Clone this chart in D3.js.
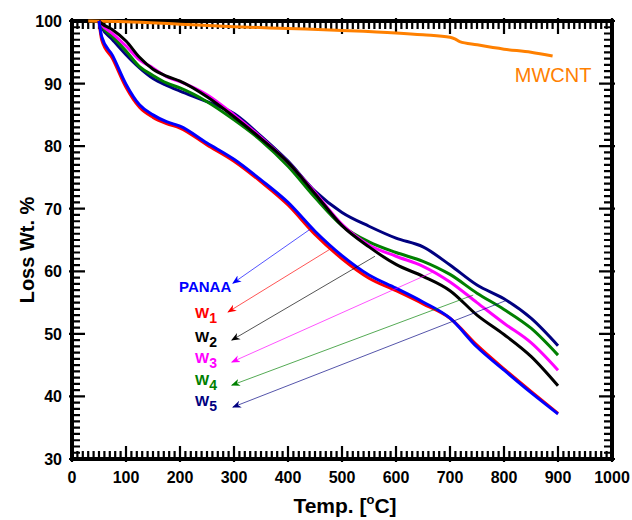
<!DOCTYPE html>
<html>
<head>
<meta charset="utf-8">
<script src="https://cdn.jsdelivr.net/npm/d3@7"></script>
<style>
  body { margin: 0; background: #fff; }
  svg { font-family: "Liberation Sans", Arial, sans-serif; }
</style>
</head>
<body>
<svg id="chart" width="632" height="520"></svg>
<script>
   // temperature grid shared by the sample curves (degC)
   var temps = [50, 55, 75, 100, 125, 150, 175, 200, 250, 300, 350, 400, 450, 500, 550, 600, 650, 700, 750, 800, 850, 900];

   var panaa = [100, 97.5, 94.5, 89.9, 86.6, 85.0, 83.9, 83.2, 80.5, 77.9, 74.6, 71.0, 66.4, 62.5, 59.4, 57.3, 55.1, 52.5, 47.9, 44.2, 40.6, 37.2];
   var w1    = [100, 97.0, 94.0, 89.4, 86.2, 84.6, 83.6, 82.9, 80.2, 77.6, 74.3, 70.6, 65.9, 62.0, 58.9, 56.9, 54.8, 52.5, 48.2, 44.4, 40.8, 37.3];
   var w2    = [100, 99.6, 98.6, 96.8, 94.2, 92.3, 91.2, 90.4, 87.9, 84.7, 81.2, 77.4, 72.4, 67.3, 63.9, 61.1, 59.2, 56.9, 53.0, 49.9, 46.4, 41.7];
   var w3    = [100, 99.4, 98.0, 96.0, 93.8, 92.5, 91.1, 90.3, 88.2, 85.0, 81.4, 77.4, 72.6, 67.5, 64.2, 62.4, 60.8, 58.3, 55.0, 51.7, 48.6, 44.2];
   var w4    = [100, 99.2, 97.5, 95.2, 92.7, 91.3, 90.1, 89.3, 87.1, 84.2, 80.9, 76.8, 71.8, 67.3, 64.7, 63.0, 61.6, 59.5, 56.5, 53.9, 50.9, 46.6];
   var w5    = [100, 99.0, 97.0, 94.6, 92.5, 90.8, 89.7, 88.8, 87.1, 85.2, 81.6, 77.6, 72.8, 69.4, 67.2, 65.3, 63.9, 61.0, 57.8, 55.6, 52.5, 48.1];

   var cntTemps = [30, 100, 200, 300, 400, 500, 600, 650, 700, 710, 718, 750, 800, 850, 890];
   var mwcnt    = [100, 99.9, 99.5, 99.1, 98.8, 98.5, 98.1, 97.8, 97.4, 97.1, 96.7, 96.2, 95.5, 95.0, 94.4];

   var xTicks = [0, 100, 200, 300, 400, 500, 600, 700, 800, 900, 1000];
   var yTicks = [30, 40, 50, 60, 70, 80, 90, 100];

   // annotation arrows, in data units: start on the curve, end near the label
   var arrowNames = ["PANAA", "W1", "W2", "W3", "W4", "W5"];
   var arrowFrom  = [[444, 66.9], [481, 63.7], [561, 62.4], [669, 59.9], [743, 56.2], [806, 55.4]];
   var arrowTo    = [[298, 58.1], [289, 53.5], [296, 49.0], [296, 45.5], [296, 41.8], [298, 38.3]];
   var labelAt    = [[295, 56.7], [228, 52.5], [228, 48.7], [228, 45.4], [228, 41.9], [228, 38.4]];

   var colors = {
      PANAA: "#0000ff", W1: "#ff0000", W2: "#000000", W3: "#ff00ff",
      W4: "#008000", W5: "#000080", MWCNT: "#ff8000"
   };

   var margin = {left: 72, top: 21, right: 20, bottom: 61};
   var width = 540, height = 438;

   var svg = d3.select("#chart");
   var g = svg.append("g").attr("transform", "translate(" + margin.left + "," + margin.top + ")");

   var x = d3.scaleLinear().domain([0, 1000]).range([0, width]);
   var y = d3.scaleLinear().domain([30, 100]).range([height, 0]);

   var line = d3.line()
      .x(function(d) { return x(d[0]); })
      .y(function(d) { return y(d[1]); })
      .curve(d3.curveMonotoneX);

   function pairs(ts, vs) {
      return ts.map(function(t, i) { return [t, vs[i]]; });
   }

   // ticks point inward on all four sides, one path for the lot
   var minorX = d3.range(0, 1001, 10).filter(function(v) { return v % 100 != 0; });
   var minorY = d3.range(30, 101, 1).filter(function(v) { return v % 10 != 0; });
   var minLen = 8, majLen = 13, outLen = 3;

   var tickPath = d3.path();
   minorX.forEach(function(v) {
      tickPath.moveTo(x(v), height); tickPath.lineTo(x(v), height - minLen);
      tickPath.moveTo(x(v), 0); tickPath.lineTo(x(v), minLen);
   });
   xTicks.forEach(function(v) {
      tickPath.moveTo(x(v), height + outLen); tickPath.lineTo(x(v), height - majLen);
      tickPath.moveTo(x(v), -outLen); tickPath.lineTo(x(v), majLen);
   });
   minorY.forEach(function(v) {
      tickPath.moveTo(0, y(v)); tickPath.lineTo(minLen, y(v));
      tickPath.moveTo(width, y(v)); tickPath.lineTo(width - minLen, y(v));
   });
   yTicks.forEach(function(v) {
      tickPath.moveTo(-outLen, y(v)); tickPath.lineTo(majLen, y(v));
      tickPath.moveTo(width + outLen, y(v)); tickPath.lineTo(width - majLen, y(v));
   });
   g.append("path")
      .attr("d", tickPath.toString())
      .attr("fill", "none")
      .attr("stroke", "#000")
      .attr("stroke-width", 2.2);

   g.append("rect").attr("width", width).attr("height", height)
      .attr("fill", "none").attr("stroke", "#000").attr("stroke-width", 4);

   // tick labels
   g.selectAll(".xl").data(xTicks).enter().append("text")
      .attr("class", "xl")
      .attr("x", x).attr("y", height + 24)
      .attr("text-anchor", "middle").attr("font-size", 16).attr("font-weight", "bold")
      .text(function(d) { return d; });
   g.selectAll(".yl").data(yTicks).enter().append("text")
      .attr("class", "yl")
      .attr("x", -10).attr("y", function(d) { return y(d) + 6; })
      .attr("text-anchor", "end").attr("font-size", 16).attr("font-weight", "bold")
      .text(function(d) { return d; });

   // axis titles
   var xt = svg.append("text")
      .attr("x", margin.left + width / 2 + 3).attr("y", 513)
      .attr("text-anchor", "middle").attr("font-size", 21).attr("font-weight", "bold");
   xt.append("tspan").text("Temp. [");
   xt.append("tspan").attr("font-size", 13).attr("dy", -9).text("o");
   xt.append("tspan").attr("dy", 9).text("C]");

   svg.append("text")
      .attr("transform", "translate(34," + (margin.top + height / 2 + 10) + ") rotate(-90)")
      .attr("text-anchor", "middle").attr("font-size", 20).attr("font-weight", "bold")
      .text("Loss Wt. %");

   // curves
   var series = [
      ["MWCNT", pairs(cntTemps, mwcnt)],
      ["W5", pairs(temps, w5)],
      ["W4", pairs(temps, w4)],
      ["W3", pairs(temps, w3)],
      ["W2", pairs(temps, w2)],
      ["W1", pairs(temps, w1)],
      ["PANAA", pairs(temps, panaa)]
   ];

   g.selectAll(".curve").data(series).enter().append("path")
      .attr("class", "curve")
      .attr("d", function(d) { return line(d[1]); })
      .attr("fill", "none")
      .attr("stroke", function(d) { return colors[d[0]]; })
      .attr("stroke-width", 3)
      .attr("stroke-linejoin", "round");

   g.append("text")
      .attr("x", x(820)).attr("y", y(90.2))
      .attr("font-size", 20).attr("fill", colors.MWCNT)
      .text("MWCNT");

   // arrows
   var defs = svg.append("defs");
   arrowNames.forEach(function(n) {
      defs.append("marker")
         .attr("id", "head-" + n)
         .attr("viewBox", "0 0 10 10").attr("refX", 9).attr("refY", 5)
         .attr("markerWidth", 9).attr("markerHeight", 9)
         .attr("markerUnits", "userSpaceOnUse")
         .attr("orient", "auto")
         .append("path").attr("d", "M0,1 L10,5 L0,9 L3,5 Z")
         .attr("fill", colors[n]);
   });

   g.selectAll(".arrow").data(arrowNames).enter().append("line")
      .attr("class", "arrow")
      .attr("x1", function(d, i) { return x(arrowFrom[i][0]); })
      .attr("y1", function(d, i) { return y(arrowFrom[i][1]); })
      .attr("x2", function(d, i) { return x(arrowTo[i][0]); })
      .attr("y2", function(d, i) { return y(arrowTo[i][1]); })
      .attr("stroke", function(d) { return colors[d]; })
      .attr("stroke-width", 0.9)
      .attr("stroke-opacity", 0.75)
      .attr("marker-end", function(d) { return "url(#head-" + d + ")"; });

   // labels
   arrowNames.forEach(function(n, i) {
      var t = g.append("text")
         .attr("x", x(labelAt[i][0])).attr("y", y(labelAt[i][1]))
         .attr("font-size", 15).attr("font-weight", "bold")
         .attr("fill", colors[n]);
      if (n == "PANAA") {
         t.attr("text-anchor", "end").text(n);
      } else {
         t.append("tspan").text("W");
         t.append("tspan").attr("dy", 5).attr("font-size", 14).text(n.slice(1));
      }
   });
</script>
</body>
</html>
